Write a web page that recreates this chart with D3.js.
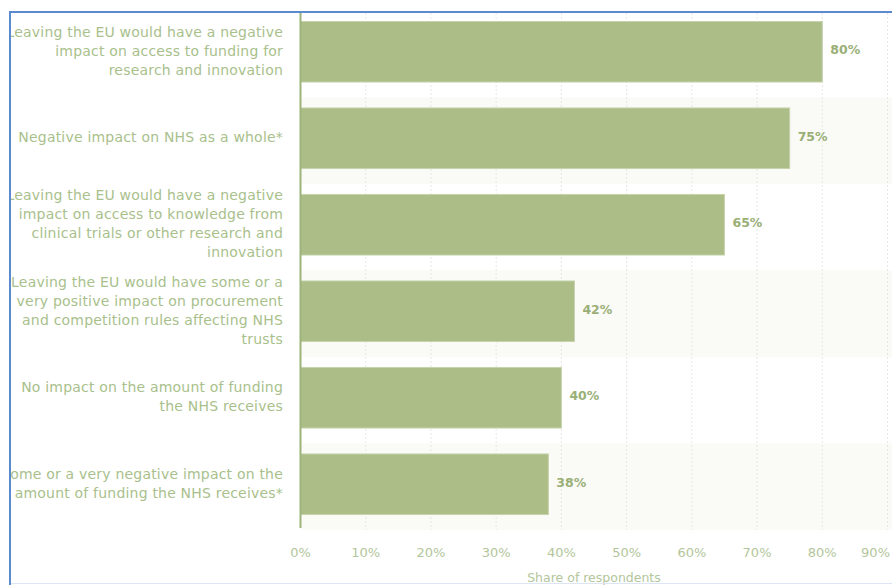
<!DOCTYPE html>
<html>
<head>
<meta charset="utf-8">
<script src="https://cdn.jsdelivr.net/npm/d3@7"></script>
<style>
  html, body { margin: 0; padding: 0; background: #ffffff; }
  svg { display: block; }
</style>
</head>
<body>
<svg id="chart" width="892" height="585"></svg>
<script>
const categories = [
  ["Leaving the EU would have a negative", "impact on access to funding for", "research and innovation"],
  ["Negative impact on NHS as a whole*"],
  ["Leaving the EU would have a negative", "impact on access to knowledge from", "clinical trials or other research and", "innovation"],
  ["Leaving the EU would have some or a", "very positive impact on procurement", "and competition rules affecting NHS", "trusts"],
  ["No impact on the amount of funding", "the NHS receives"],
  ["Some or a very negative impact on the", "amount of funding the NHS receives*"]
];
const values = [80, 75, 65, 42, 40, 38];
const tickValues = [0, 10, 20, 30, 40, 50, 60, 70, 80, 90];
const tickLabels = ["0%", "10%", "20%", "30%", "40%", "50%", "60%", "70%", "80%", "90%"];
const axisTitle = "Share of respondents";

const svg = d3.select("#chart");
const font = "'DejaVu Sans', Verdana, sans-serif";
const labelColor = "#a9bf8c";
const barColor = "#acbd88";

const x = d3.scaleLinear().domain([0, 90]).range([300.5, 887.5]);
const y = d3.scaleBand().domain(d3.range(categories.length)).range([11, 530]).paddingInner(0).paddingOuter(0);
const barPad = 0.15;

svg.append("defs").append("clipPath").attr("id", "frameClip")
  .append("rect").attr("x", 11).attr("y", 13).attr("width", 892).attr("height", 570);

const g = svg.append("g").attr("clip-path", "url(#frameClip)");

// alternating band backgrounds
g.selectAll("rect.band").data(d3.range(categories.length).filter(i => i % 2 === 1)).enter()
  .append("rect").attr("class", "band")
  .attr("x", x(0)).attr("width", 892 - x(0))
  .attr("y", i => y(i)).attr("height", y.bandwidth())
  .attr("fill", "#fafaf7");

// gridlines
g.selectAll("line.grid").data(tickValues.filter(v => v > 0)).enter()
  .append("line").attr("class", "grid")
  .attr("x1", d => x(d)).attr("x2", d => x(d))
  .attr("y1", 13).attr("y2", 530)
  .attr("stroke", "#e6e8e1").attr("stroke-width", 1).attr("stroke-dasharray", "2,2");

// bars
g.selectAll("rect.bar").data(values).enter()
  .append("rect").attr("class", "bar")
  .attr("x", x(0))
  .attr("y", (d, i) => y(i) + y.bandwidth() * barPad - 2.5)
  .attr("width", d => x(d) - x(0))
  .attr("height", y.bandwidth() * (1 - 2 * barPad))
  .attr("fill", barColor)
  .attr("stroke", "#c6d3ac").attr("stroke-width", 1);

// value labels
g.selectAll("text.val").data(values).enter()
  .append("text").attr("class", "val")
  .attr("x", d => x(d) + 8)
  .attr("y", (d, i) => y(i) + y.bandwidth() / 2 - 4.5)
  .attr("dy", "0.35em")
  .attr("font-family", font).attr("font-size", 12.5).attr("font-weight", "bold")
  .attr("fill", "#99af76")
  .text(d => d + "%");

// y axis line
g.append("line").attr("x1", 300.5).attr("x2", 300.5).attr("y1", 13).attr("y2", 528)
  .attr("stroke", "#9cb47a").attr("stroke-width", 2);

// category labels
const lineH = 19;
categories.forEach((lines, i) => {
  const cy = y(i) + y.bandwidth() / 2 - 3.5;
  const t = g.append("text")
    .attr("text-anchor", "end")
    .attr("font-family", font).attr("font-size", 14).attr("letter-spacing", 0.2)
    .attr("fill", labelColor);
  lines.forEach((ln, j) => {
    t.append("tspan").attr("x", 283)
      .attr("y", cy - (lines.length - 1) * lineH / 2 + j * lineH)
      .attr("dy", "0.35em").text(ln);
  });
});

// x tick labels
svg.append("g").selectAll("text.tick").data(tickValues).enter()
  .append("text").attr("class", "tick")
  .attr("x", (d, i) => i === tickValues.length - 1 ? 890 : x(d))
  .attr("y", 552).attr("dy", "0.35em")
  .attr("text-anchor", (d, i) => i === tickValues.length - 1 ? "end" : "middle")
  .attr("font-family", font).attr("font-size", 13)
  .attr("fill", "#b3c69b")
  .text((d, i) => tickLabels[i]);

// axis title
svg.append("text").attr("x", 594).attr("y", 582)
  .attr("text-anchor", "middle")
  .attr("font-family", font).attr("font-size", 12.5)
  .attr("fill", "#b3c69b").text(axisTitle);

// frame
svg.append("line").attr("x1", 10).attr("x2", 892).attr("y1", 12).attr("y2", 12)
  .attr("stroke", "#5b8ad0").attr("stroke-width", 2);
svg.append("line").attr("x1", 10).attr("x2", 10).attr("y1", 11).attr("y2", 585)
  .attr("stroke", "#5b8ad0").attr("stroke-width", 2);
svg.append("line").attr("x1", 11).attr("x2", 892).attr("y1", 583.5).attr("y2", 583.5)
  .attr("stroke", "#dbe5f4").attr("stroke-width", 1);
</script>
</body>
</html>
